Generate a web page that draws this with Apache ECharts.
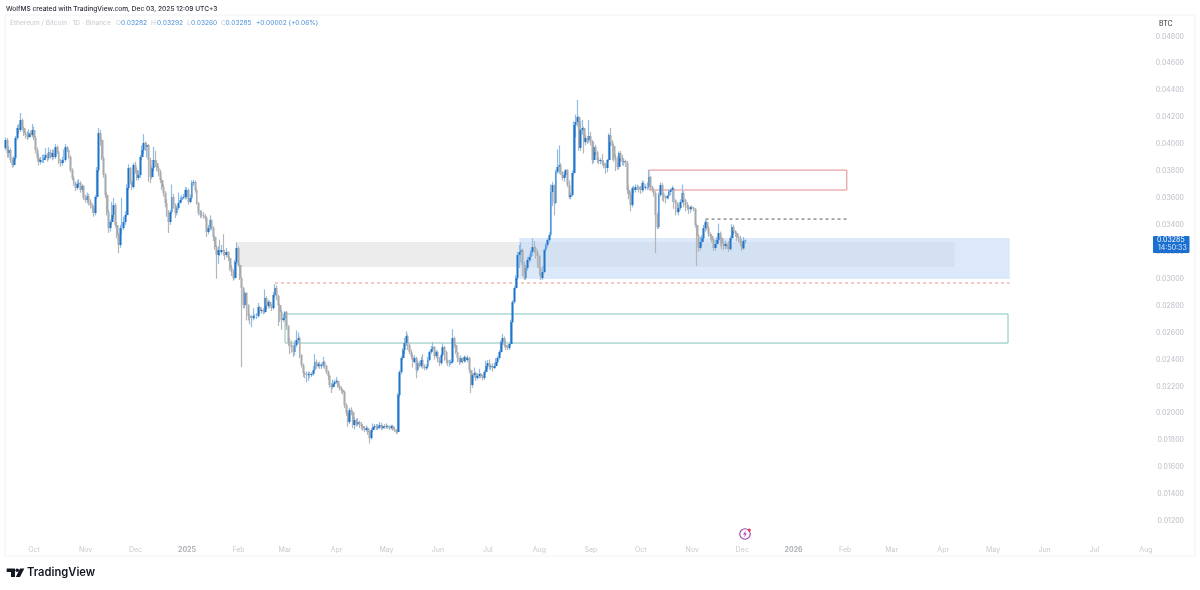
<!DOCTYPE html>
<html>
<head>
<meta charset="utf-8">
<style>html,body{margin:0;padding:0;background:#fff}#c{width:1200px;height:590px}</style>
<script src="https://cdn.jsdelivr.net/npm/echarts@6/dist/echarts.min.js"></script>
</head>
<body>
<div id="c"></div>
<script>
// prices are in 0.00001 BTC, one row per month, Sep 14 2024 to Dec 03 2025
const closes = [
4030,3934,3956,3882,3845,3897,4045,4120,4105,4179,4120,4082,4067,4052,4082,4067,4105,
4045,3956,3897,3867,3882,3882,3897,3919,3897,3941,3904,3934,3904,3978,3941,3867,3859,3882,3882,3978,3956,3904,3807,3748,3711,3674,3703,3711,3659,3689,3599,
3585,3614,3570,3547,3525,3488,3607,3807,4082,4030,3897,3770,3622,3495,3376,3421,3473,3547,3399,3324,3250,3376,3376,3421,3473,3674,3822,3718,3681,3845,
3807,3748,3770,3904,3956,4008,3978,3993,3882,3755,3822,3882,3859,3822,3793,3733,3681,3637,3562,3488,3421,3495,3607,3547,3488,3525,3562,3585,3599,3607,3659,
3659,3570,3599,3711,3718,3659,3562,3488,3473,3473,3466,3451,3347,3376,3436,3376,3310,3235,3176,3213,3198,3213,3198,3176,3198,3154,3079,3050,3005,3124,3228,
3102,3005,2931,2804,2894,2804,2723,2708,2708,2723,2723,2723,2790,2760,2767,2752,2857,2797,2827,2797,2782,2879,2931,2871,2804,2752,2693,2708,
2752,2648,2529,2507,2492,2455,2507,2544,2559,2433,2359,2299,2284,2284,2292,2284,2292,2321,2381,2351,2366,2351,2359,2381,2351,2307,2277,2210,2195,2217,2232,
2240,2203,2188,2173,2158,2061,2002,1935,2024,2009,1913,1950,1920,1935,1913,1905,1890,1876,1890,1861,1816,1876,1898,1905,1890,1898,1913,1890,1905,1898,
1905,1898,1890,1905,1883,1876,1861,2136,2307,2411,2470,2522,2574,2507,2455,2425,2381,2411,2321,2373,2351,2396,2351,2336,2344,2396,2455,2477,2492,2425,2455,
2396,2373,2433,2492,2455,2396,2373,2373,2381,2559,2507,2455,2411,2381,2411,2388,2418,2396,2411,2321,2210,2284,2299,2262,2277,2292,2277,2262,2307,2351,
2373,2344,2351,2336,2351,2381,2411,2455,2529,2559,2507,2492,2485,2515,2678,2827,2931,3005,3176,3198,3213,3102,3005,3079,3139,3161,3198,3235,3228,3198,3168,
3079,3005,3050,3213,3250,3287,3324,3644,3696,3562,3793,3830,3845,3793,3748,3770,3807,3696,3607,3622,3785,4142,4164,4201,3971,4105,4120,4015,4045,4030,4060,
4015,3882,3978,3941,3882,3874,3882,3859,3845,3822,3882,4067,4015,3986,3897,3882,3830,3934,3897,3867,3874,3859,3659,3622,3547,3674,3659,3681,3681,3666,
3659,3711,3674,3681,3681,3755,3681,3659,3637,3473,3384,3622,3696,3637,3607,3599,3614,3644,3659,3674,3585,3562,3495,3525,3570,3637,3585,3547,3525,3518,3532,
3525,3518,3399,3317,3228,3272,3302,3376,3421,3376,3332,3317,3287,3228,3258,3287,3339,3302,3265,3243,3258,3235,3220,3302,3384,3354,3339,3310,3302,3265,
3225,3282,3285]
const opens = [
3970,4030,3934,3956,3882,3845,3897,4045,4120,4105,4179,4120,4082,4067,4052,4082,4067,
4105,4045,3956,3897,3867,3882,3882,3897,3919,3897,3941,3904,3934,3904,3978,3941,3867,3859,3882,3882,3978,3956,3904,3807,3748,3711,3674,3703,3711,3659,3689,
3599,3585,3614,3570,3547,3525,3488,3607,3807,4082,4030,3897,3770,3622,3495,3376,3421,3473,3547,3399,3324,3250,3376,3376,3421,3473,3674,3822,3718,3681,
3845,3807,3748,3770,3904,3956,4008,3978,3993,3882,3755,3822,3882,3859,3822,3793,3733,3681,3637,3562,3488,3421,3495,3607,3547,3488,3525,3562,3585,3599,3607,
3607,3659,3570,3599,3711,3718,3659,3562,3488,3473,3473,3466,3451,3347,3376,3436,3376,3310,3235,3176,3213,3198,3213,3198,3176,3198,3154,3079,3050,3005,3124,
3228,3102,3005,2931,2804,2894,2804,2723,2708,2708,2723,2723,2723,2790,2760,2767,2752,2857,2797,2827,2797,2782,2879,2931,2871,2804,2752,2693,
2708,2752,2648,2529,2507,2492,2455,2507,2544,2559,2433,2359,2299,2284,2284,2292,2284,2292,2321,2381,2351,2366,2351,2359,2381,2351,2307,2277,2210,2195,2217,
2232,2240,2203,2188,2173,2158,2061,2002,1935,2024,2009,1913,1950,1920,1935,1913,1905,1890,1876,1890,1861,1816,1876,1898,1905,1890,1898,1913,1890,1905,
1898,1905,1898,1890,1905,1883,1876,1861,2136,2307,2411,2470,2522,2574,2507,2455,2425,2381,2411,2321,2373,2351,2396,2351,2336,2344,2396,2455,2477,2492,2425,
2455,2396,2373,2433,2492,2455,2396,2373,2373,2381,2559,2507,2455,2411,2381,2411,2388,2418,2396,2411,2321,2210,2284,2299,2262,2277,2292,2277,2262,2307,
2351,2373,2344,2351,2336,2351,2381,2411,2455,2529,2559,2507,2492,2485,2515,2678,2827,2931,3005,3176,3198,3213,3102,3005,3079,3139,3161,3198,3235,3228,3198,
3168,3079,3005,3050,3213,3250,3287,3324,3644,3696,3562,3793,3830,3845,3793,3748,3770,3807,3696,3607,3622,3785,4142,4164,4201,3971,4105,4120,4015,4045,4030,
4060,4015,3882,3978,3941,3882,3874,3882,3859,3845,3822,3882,4067,4015,3986,3897,3882,3830,3934,3897,3867,3874,3859,3659,3622,3547,3674,3659,3681,3681,
3666,3659,3711,3674,3681,3681,3755,3681,3659,3637,3473,3384,3622,3696,3637,3607,3599,3614,3644,3659,3674,3585,3562,3495,3525,3570,3637,3585,3547,3525,3518,
3532,3525,3518,3399,3317,3228,3272,3302,3376,3421,3376,3332,3317,3287,3228,3258,3287,3339,3302,3265,3243,3258,3235,3220,3302,3384,3354,3339,3310,3302,
3265,3225,3282]
const highs = [
4050,4045,3985,3970,3900,3910,4060,4140,4150,4231,4190,4130,4100,4095,4110,4100,4150,
4130,4060,3975,3930,3905,3920,3925,3970,3935,3975,3960,3960,3960,4000,3990,3950,3890,3905,3960,4000,3985,3965,3915,3820,3760,3720,3730,3740,3725,3700,3695,
3625,3640,3630,3590,3560,3540,3620,3830,4120,4105,4040,3905,3785,3640,3510,3440,3570,3600,3560,3420,3340,3400,3600,3460,3500,3700,3850,3830,3730,3860,
3870,3825,3800,3920,3990,4075,4020,4010,4000,3900,3840,3980,3950,3880,3840,3810,3750,3700,3650,3590,3510,3510,3700,3630,3560,3540,3640,3610,3620,3630,3680,
3680,3670,3625,3730,3735,3730,3670,3570,3510,3505,3495,3480,3460,3400,3470,3440,3390,3320,3250,3240,3290,3250,3330,3215,3230,3205,3165,3100,3070,3140,3270,
3240,3115,3010,2940,2910,2900,2810,2740,2730,2780,2740,2745,2820,2800,2780,2780,2920,2870,2840,2840,2810,2900,2960,2950,2880,2815,2770,2740,
2760,2760,2655,2560,2540,2510,2540,2615,2600,2570,2440,2370,2310,2310,2310,2310,2305,2350,2440,2400,2380,2385,2375,2420,2390,2360,2320,2285,2225,2250,2250,
2270,2250,2215,2200,2180,2165,2075,2020,2040,2045,2020,1970,1960,1965,1945,1935,1920,1905,1910,1900,1870,1890,1925,1920,1920,1920,1935,1930,1915,1920,
1925,1915,1910,1915,1915,1895,1885,2150,2320,2425,2485,2560,2610,2590,2520,2475,2440,2430,2420,2395,2390,2420,2440,2365,2365,2420,2465,2500,2530,2500,2470,
2465,2420,2445,2520,2500,2465,2400,2395,2400,2625,2570,2520,2450,2415,2430,2415,2430,2425,2430,2420,2325,2300,2340,2310,2295,2330,2300,2285,2320,2390,
2395,2400,2365,2370,2375,2410,2425,2470,2540,2590,2570,2540,2510,2530,2695,2840,2945,3025,3200,3250,3270,3225,3125,3100,3160,3180,3215,3300,3280,3240,3215,
3175,3085,3095,3225,3265,3300,3345,3700,3720,3700,3810,3960,3990,3860,3800,3790,3815,3815,3730,3640,3805,4170,4220,4328,4210,4170,4180,4130,4070,4060,4180,
4090,4030,4020,3995,3950,3900,3895,3925,3880,3860,3890,4080,4120,4030,4000,3925,3910,3945,3950,3920,3895,3885,3875,3690,3640,3685,3690,3700,3700,3690,
3690,3730,3725,3700,3715,3810,3765,3690,3670,3650,3490,3640,3715,3710,3640,3620,3625,3660,3670,3690,3680,3590,3570,3550,3590,3700,3650,3595,3570,3550,3540,
3545,3535,3525,3410,3330,3310,3325,3400,3440,3440,3390,3345,3330,3300,3290,3310,3410,3350,3310,3275,3285,3270,3280,3320,3405,3400,3360,3345,3320,3320,
3280,3310,3292]
const lows = [
3955,3900,3900,3860,3825,3830,3880,4030,4075,4090,4100,4060,4040,4030,4040,4050,4050,
4030,3930,3870,3840,3850,3860,3860,3880,3870,3880,3890,3880,3890,3890,3925,3850,3830,3840,3860,3870,3940,3890,3790,3730,3690,3650,3660,3680,3640,3640,3585,
3565,3560,3545,3520,3490,3460,3470,3590,3790,3990,3880,3750,3600,3470,3340,3350,3400,3450,3380,3300,3190,3230,3330,3360,3400,3460,3660,3700,3660,3670,
3780,3730,3730,3750,3880,3930,3950,3900,3720,3710,3740,3800,3830,3800,3760,3710,3660,3610,3530,3460,3340,3400,3480,3520,3450,3470,3510,3560,3570,3590,3590,
3590,3550,3560,3590,3690,3640,3550,3470,3450,3455,3445,3430,3310,3330,3360,3360,3280,3215,3000,3110,3170,3180,3170,3140,3160,3130,3060,3020,2985,2995,3110,
3090,2990,2344,2780,2780,2690,2690,2660,2640,2690,2700,2700,2710,2740,2740,2735,2740,2770,2780,2780,2760,2770,2860,2840,2650,2680,2620,2680,
2690,2620,2500,2440,2450,2420,2430,2490,2520,2410,2340,2270,2260,2230,2240,2260,2270,2280,2310,2330,2340,2330,2330,2340,2330,2290,2250,2190,2150,2180,2200,
2220,2190,2170,2150,2140,2040,1980,1900,1920,1985,1890,1880,1900,1905,1890,1880,1870,1860,1865,1840,1775,1805,1860,1880,1875,1875,1885,1875,1880,1885,
1885,1885,1875,1880,1870,1860,1845,1850,2120,2290,2395,2440,2500,2470,2440,2400,2340,2370,2260,2310,2340,2340,2330,2320,2320,2330,2385,2440,2460,2400,2410,
2380,2350,2360,2420,2390,2370,2350,2345,2360,2370,2490,2440,2380,2360,2370,2370,2375,2380,2380,2300,2150,2190,2265,2240,2250,2260,2260,2245,2250,2295,
2330,2325,2320,2310,2330,2340,2370,2400,2440,2510,2490,2470,2470,2470,2505,2670,2815,2920,2990,3080,3120,3020,2990,2990,3060,3120,3130,3170,3190,3150,3080,
3020,2990,2990,3040,3200,3230,3270,3315,3540,3470,3555,3780,3780,3770,3730,3720,3755,3680,3590,3590,3610,3770,4050,4130,3950,3950,4070,3930,3990,4000,4010,
3990,3850,3860,3920,3860,3850,3850,3840,3820,3780,3790,3870,3990,3880,3870,3800,3810,3810,3870,3840,3840,3830,3630,3590,3500,3530,3630,3640,3660,3640,
3630,3640,3650,3660,3660,3670,3660,3640,3610,3190,3370,3370,3610,3580,3570,3560,3590,3590,3620,3570,3520,3470,3490,3470,3510,3560,3530,3500,3510,3480,3490,
3510,3500,3380,3094,3200,3210,3240,3280,3350,3360,3310,3290,3270,3205,3210,3240,3270,3240,3220,3210,3220,3220,3200,3210,3290,3330,3310,3280,3270,3240,
3205,3215,3260]

const yTicks = [1200,1400,1600,1800,2000,2200,2400,2600,2800,3000,3200,3400,3600,3800,4000,4200,4400,4600,4800]
const monthTicks = {
  '2024-10-01':'Oct','2024-11-01':'Nov','2024-12-01':'Dec','2025-01-01':'2025','2025-02-01':'Feb','2025-03-01':'Mar',
  '2025-04-01':'Apr','2025-05-01':'May','2025-06-01':'Jun','2025-07-01':'Jul','2025-08-01':'Aug','2025-09-01':'Sep',
  '2025-10-01':'Oct','2025-11-01':'Nov','2025-12-01':'Dec','2026-01-01':'2026','2026-02-01':'Feb','2026-03-01':'Mar',
  '2026-04-01':'Apr','2026-05-01':'May','2026-06-01':'Jun','2026-07-01':'Jul','2026-08-01':'Aug'
}

// drawings on the chart: start date, end date, top price, bottom price
const grayBox = ['2025-01-31','2026-04-08',3272,3087]
const blueBox = ['2025-07-20','2026-05-11',3302,2998]
const redBox = ['2025-10-06','2026-02-02',3807,3659]
const greenBox = ['2025-03-01','2026-05-10',2738,2522]
const redDash = ['2025-02-23','2026-05-11',2968]
const blackDash = ['2025-11-09','2026-02-02',3443]

// daily slots, the axis runs on past the last candle
const categories = []
for (let i = 0; i < 716; i++) {
  categories.push(new Date(Date.UTC(2024, 8, 14 + i)).toISOString().slice(0, 10))
}

const FONT = 'Inter'
const BLUE = '#1f74c8'
const GRAY = '#a8aaae'

function box(b, style) {
  return [{ coord: [b[0], b[2]], itemStyle: style }, { coord: [b[1], b[3]] }]
}
// markLine kept losing its colour on the candlestick series, plain line series work
function dash(d, color) {
  return {
    type: 'line', z: 2, silent: true, showSymbol: false, symbol: 'none',
    lineStyle: { color: color, type: [3, 3], width: 1 },
    data: [[d[0], d[2]], [d[1], d[2]]]
  }
}

const chart = echarts.init(document.getElementById('c'), null, { renderer: 'canvas' })
chart.setOption({
  animation: false,
  backgroundColor: '#fff',
  title: {
    text: 'WolfMS created with TradingView.com, Dec 03, 2025 12:09 UTC+3',
    left: 6, top: 5.5, padding: 0,
    textStyle: { fontFamily: FONT, fontSize: 6.6, fontWeight: 500, color: '#2a2e39' }
  },
  grid: { left: 5, right: 5, top: 15, bottom: 34, show: true, borderColor: '#f1f2f4', borderWidth: 1 },
  xAxis: {
    type: 'category', data: categories, boundaryGap: true,
    axisLine: { show: false }, axisTick: { show: false }, splitLine: { show: false },
    axisLabel: {
      inside: true, margin: 3,
      interval: (i, v) => v in monthTicks,
      formatter: v => {
        const t = monthTicks[v]
        return t.length === 4 ? '{y|' + t + '}' : t
      },
      fontFamily: FONT, fontSize: 7, color: '#c8cad0',
      rich: { y: { fontFamily: FONT, fontSize: 7, fontWeight: 'bold', color: '#aeb1b8' } }
    }
  },
  yAxis: {
    type: 'value', position: 'right', min: 940, max: 4959,
    axisLine: { show: false }, axisTick: { show: false }, splitLine: { show: false },
    axisLabel: {
      inside: true, margin: 11, customValues: yTicks,
      formatter: v => (v / 1e5).toFixed(5),
      fontFamily: FONT, fontSize: 7, color: '#b9bcc4'
    }
  },
  series: [
    {
      name: 'wicks', type: 'candlestick', barWidth: 1, z: 3,
      itemStyle: { color: '#8fbce8', color0: '#b4b6ba', borderColor: '#8fbce8', borderColor0: '#b4b6ba', borderWidth: 1.2 },
      data: closes.map((c, i) => [opens[i], c, lows[i], highs[i]]),
      markArea: {
        silent: true,
        data: [
          box(grayBox, { color: '#ececec', opacity: 1 }),
          box(blueBox, { color: 'rgba(195,218,247,0.6)', opacity: 1 }),
          box(redBox, { color: 'rgba(0,0,0,0)', borderColor: '#e58a8c', borderWidth: 1, opacity: 1 }),
          box(greenBox, { color: 'rgba(0,0,0,0)', borderColor: '#84c4b9', borderWidth: 1, opacity: 1 })
        ]
      }
    },
    {
      name: 'bodies', type: 'candlestick', barWidth: 2.4, z: 4,
      itemStyle: { color: BLUE, color0: GRAY, borderColor: BLUE, borderColor0: GRAY, borderWidth: 0 },
      data: closes.map((c, i) => [opens[i], c, Math.min(opens[i], c), Math.max(opens[i], c)])
    },
    dash(redDash, '#ee8f8f'),
    dash(blackDash, '#555a63')
  ],
  graphic: [
    { type: 'text', left: 10, top: 20, style: { text: 'Ethereum / Bitcoin · 1D · Binance', font: '6.6px ' + FONT, fill: '#c6c9d0' } },
    { type: 'text', left: 116, top: 20, style: { text: 'O', font: '6.6px ' + FONT, fill: '#c6c9d0' } },
    { type: 'text', left: 121, top: 20, style: { text: '0.03282', font: '6.6px ' + FONT, fill: '#4a90d9' } },
    { type: 'text', left: 151, top: 20, style: { text: 'H', font: '6.6px ' + FONT, fill: '#c6c9d0' } },
    { type: 'text', left: 157, top: 20, style: { text: '0.03292', font: '6.6px ' + FONT, fill: '#4a90d9' } },
    { type: 'text', left: 187, top: 20, style: { text: 'L', font: '6.6px ' + FONT, fill: '#c6c9d0' } },
    { type: 'text', left: 191, top: 20, style: { text: '0.03260', font: '6.6px ' + FONT, fill: '#4a90d9' } },
    { type: 'text', left: 221, top: 20, style: { text: 'C', font: '6.6px ' + FONT, fill: '#c6c9d0' } },
    { type: 'text', left: 225.5, top: 20, style: { text: '0.03285', font: '6.6px ' + FONT, fill: '#4a90d9' } },
    { type: 'text', left: 256, top: 20, style: { text: '+0.00002 (+0.06%)', font: '6.6px ' + FONT, fill: '#4a90d9' } },
    { type: 'text', left: 1159, top: 20, z: 50, style: { text: 'BTC', font: '7px ' + FONT, fill: '#2a2e39' } },
    // last price badge
    { type: 'rect', z: 50, shape: { x: 1153, y: 236, width: 36.5, height: 17, r: 1 }, style: { fill: '#1b6fd0' } },
    { type: 'text', left: 1157, top: 236.5, z: 51, style: { text: '0.03285', font: '7px ' + FONT, fill: '#fff' } },
    { type: 'text', left: 1158, top: 244.5, z: 51, style: { text: '14:50:33', font: '7px ' + FONT, fill: '#d8e6f8' } },
    // event marker
    { type: 'circle', z: 50, shape: { cx: 745, cy: 534, r: 5.2 }, style: { fill: '#fff', stroke: '#9c3fb5', lineWidth: 1.1 } },
    { type: 'polygon', z: 51, shape: { points: [[746, 530.5], [743, 534.5], [745, 534.5], [744, 537.5], [747, 533.5], [745, 533.5]] }, style: { fill: '#9c3fb5' } },
    { type: 'circle', z: 52, shape: { cx: 749.3, cy: 530, r: 1.5 }, style: { fill: '#e8384f' } },
    // logo
    { type: 'polygon', z: 50, shape: { points: [[6.7, 568.5], [15, 568.5], [15, 577], [11, 577], [11, 572], [6.7, 572]] }, style: { fill: '#131722' } },
    { type: 'circle', z: 50, shape: { cx: 17.2, cy: 570.3 , r: 1.8 }, style: { fill: '#131722' } },
    { type: 'polygon', z: 50, shape: { points: [[20, 568.5], [24.3, 568.5], [20, 577], [15.8, 577]] }, style: { fill: '#131722' } },
    { type: 'text', left: 27, top: 567, z: 50, style: { text: 'TradingView', font: '600 11.2px ' + FONT, fill: '#131722' } }
  ]
})
</script>
</body>
</html>
